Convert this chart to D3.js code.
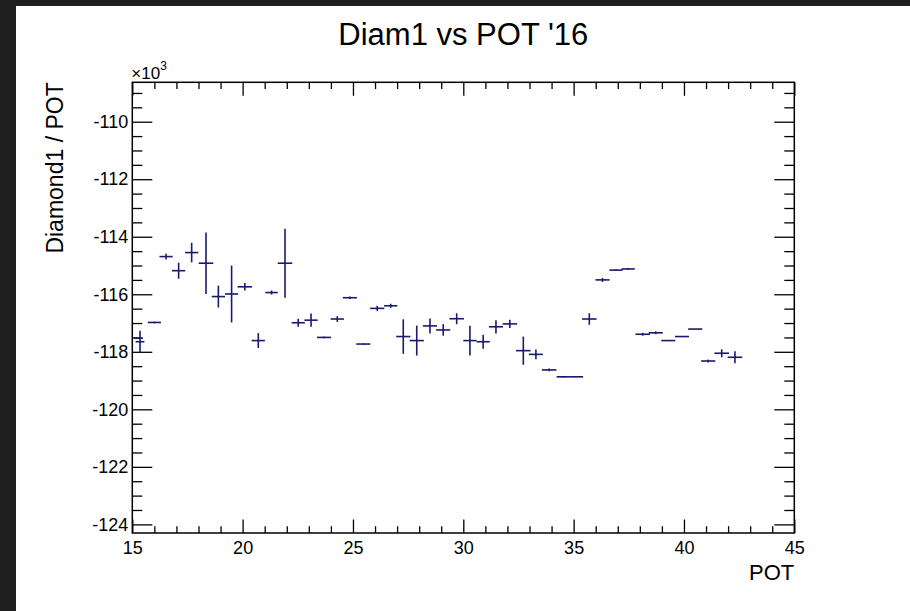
<!DOCTYPE html>
<html>
<head>
<meta charset="utf-8">
<script src="https://cdn.jsdelivr.net/npm/d3@7"></script>
<style>
  body { margin: 0; background: #fff; }
  svg { display: block; font-family: "Liberation Sans", Arial, Helvetica, sans-serif; }
</style>
</head>
<body>
<svg id="chart" width="910" height="611"></svg>
<script>
// values (y in units of 10^3)
var pot     = [15.28, 15.35, 16.0, 16.53, 17.1, 17.69, 18.34, 18.9, 19.5, 20.1, 20.71, 21.31, 21.92, 22.52, 23.1, 23.69, 24.29, 24.86,
               25.47, 26.1, 26.71, 27.28, 27.89, 28.49, 29.09, 29.7, 30.3, 30.9, 31.48, 32.11, 32.72, 33.29, 33.89, 34.53, 35.13,
               35.71, 36.31, 36.92, 37.47, 38.13, 38.72, 39.29, 39.91, 40.51, 41.1, 41.71, 42.31];
var diam    = [-117.53, -117.65, -116.98, -114.69, -115.18, -114.55, -114.92, -116.08, -115.99, -115.74, -117.61, -115.94, -114.92,
               -116.99, -116.9, -117.5, -116.86, -116.12, -117.73, -116.49, -116.4, -117.47, -117.61, -117.1, -117.24, -116.85,
               -117.61, -117.65, -117.13, -117.03, -117.96, -118.09, -118.63, -118.87, -118.87, -116.86, -115.5, -115.16, -115.12,
               -117.39, -117.34, -117.61, -117.47, -117.21, -118.32, -118.05, -118.19];
var potErr  = [0.2, 0.2, 0.3, 0.3, 0.3, 0.3, 0.33, 0.3, 0.3, 0.33, 0.3, 0.28, 0.33, 0.3, 0.3, 0.32, 0.3, 0.32,
               0.32, 0.32, 0.3, 0.32, 0.32, 0.32, 0.32, 0.33, 0.3, 0.3, 0.32, 0.33, 0.33, 0.32, 0.33, 0.3, 0.3,
               0.33, 0.32, 0.3, 0.3, 0.33, 0.32, 0.32, 0.32, 0.32, 0.32, 0.33, 0.33];
var diamErr = [0.0, 0.38, 0.03, 0.1, 0.28, 0.34, 1.07, 0.38, 0.99, 0.13, 0.26, 0.07, 1.2, 0.14, 0.23, 0.03, 0.1, 0.04,
               0.02, 0.09, 0.07, 0.6, 0.52, 0.26, 0.2, 0.19, 0.52, 0.24, 0.23, 0.14, 0.49, 0.17, 0.05, 0.03, 0.0,
               0.2, 0.07, 0.02, 0.03, 0.05, 0.05, 0.0, 0.0, 0.0, 0.05, 0.14, 0.21];

var xMajor = [15, 20, 25, 30, 35, 40, 45];
var yMajor = [-124, -122, -120, -118, -116, -114, -112, -110];

var svg = d3.select('#chart');

// dark strips at the edges of the screenshot
svg.append('rect').attr('x', 0).attr('y', 0).attr('width', 910).attr('height', 6).attr('fill', '#1e1e1e');
svg.append('rect').attr('x', 0).attr('y', 0).attr('width', 16).attr('height', 611).attr('fill', '#1e1e1e');

var fLeft = 132.3, fRight = 794.3, fTop = 82.3, fBottom = 533;
var x = d3.scaleLinear().domain([15, 45]).range([fLeft, fRight]);
var y = d3.scaleLinear().domain([-124.3, -108.63]).range([fBottom, fTop]);

var xMinor = d3.range(15, 45.01, 1).filter(function(v) { return xMajor.indexOf(v) < 0; });
var yMinor = d3.range(-124, -108.6, 0.5).filter(function(v) { return yMajor.indexOf(v) < 0; });

var xTick = 13.5, yTick = 20;
var plain = function(d) { return String(d); };  // keep ascii hyphen like ROOT

function styleAxis(g) {
  g.attr('font-family', null).attr('font-size', null);
  g.select('.domain').remove();
  g.selectAll('line').attr('stroke', '#000').attr('stroke-width', 1.3);
  g.selectAll('text').attr('fill', '#000').attr('font-size', '18px');
}

// bottom
svg.append('g').attr('transform', 'translate(0,' + fBottom + ')')
  .call(d3.axisBottom(x).tickValues(xMajor).tickSize(-xTick).tickPadding(8).tickFormat(plain))
  .call(styleAxis);
svg.append('g').attr('transform', 'translate(0,' + fBottom + ')')
  .call(d3.axisBottom(x).tickValues(xMinor).tickSize(-xTick / 2).tickFormat(''))
  .call(styleAxis);
// top
svg.append('g').attr('transform', 'translate(0,' + fTop + ')')
  .call(d3.axisTop(x).tickValues(xMajor).tickSize(-xTick).tickFormat(''))
  .call(styleAxis);
svg.append('g').attr('transform', 'translate(0,' + fTop + ')')
  .call(d3.axisTop(x).tickValues(xMinor).tickSize(-xTick / 2).tickFormat(''))
  .call(styleAxis);
// left
svg.append('g').attr('transform', 'translate(' + fLeft + ',0)')
  .call(d3.axisLeft(y).tickValues(yMajor).tickSize(-yTick).tickPadding(4).tickFormat(plain))
  .call(styleAxis);
svg.append('g').attr('transform', 'translate(' + fLeft + ',0)')
  .call(d3.axisLeft(y).tickValues(yMinor).tickSize(-yTick / 2).tickFormat(''))
  .call(styleAxis);
// right
svg.append('g').attr('transform', 'translate(' + fRight + ',0)')
  .call(d3.axisRight(y).tickValues(yMajor).tickSize(-yTick).tickFormat(''))
  .call(styleAxis);
svg.append('g').attr('transform', 'translate(' + fRight + ',0)')
  .call(d3.axisRight(y).tickValues(yMinor).tickSize(-yTick / 2).tickFormat(''))
  .call(styleAxis);

// frame
svg.append('rect')
  .attr('x', fLeft).attr('y', fTop)
  .attr('width', fRight - fLeft).attr('height', fBottom - fTop)
  .attr('fill', 'none').attr('stroke', '#000').attr('stroke-width', 1.5);

// points with error bars
var pts = pot.map(function(p, i) {
  return { x: p, y: diam[i], ex: potErr[i], ey: diamErr[i] };
});
var marks = svg.append('g').attr('stroke', '#191970').attr('stroke-width', 1.6);
marks.selectAll('line.ex').data(pts).enter().append('line')
  .attr('class', 'ex')
  .attr('x1', function(d) { return x(d.x - d.ex); })
  .attr('x2', function(d) { return x(d.x + d.ex); })
  .attr('y1', function(d) { return y(d.y); })
  .attr('y2', function(d) { return y(d.y); });
marks.selectAll('line.ey').data(pts.filter(function(d) { return d.ey > 0; })).enter().append('line')
  .attr('class', 'ey')
  .attr('x1', function(d) { return x(d.x); })
  .attr('x2', function(d) { return x(d.x); })
  .attr('y1', function(d) { return y(d.y - d.ey); })
  .attr('y2', function(d) { return y(d.y + d.ey); });

// texts
svg.append('text')
  .attr('x', (fLeft + fRight) / 2).attr('y', 45)
  .attr('text-anchor', 'middle').attr('font-size', '31px')
  .text("Diam1 vs POT '16");

svg.append('text')
  .attr('x', fRight).attr('y', 580)
  .attr('text-anchor', 'end').attr('font-size', '22px')
  .text('POT');

svg.append('text')
  .attr('transform', 'translate(63,' + fTop + ') rotate(-90)')
  .attr('text-anchor', 'end').attr('font-size', '23px')
  .text('Diamond1 / POT');

var mult = svg.append('text').attr('x', fLeft - 1).attr('y', 79).attr('font-size', '17px');
mult.append('tspan').text('\u00d710');
mult.append('tspan').attr('dy', -9).attr('font-size', '12px').text('3');
</script>
</body>
</html>
